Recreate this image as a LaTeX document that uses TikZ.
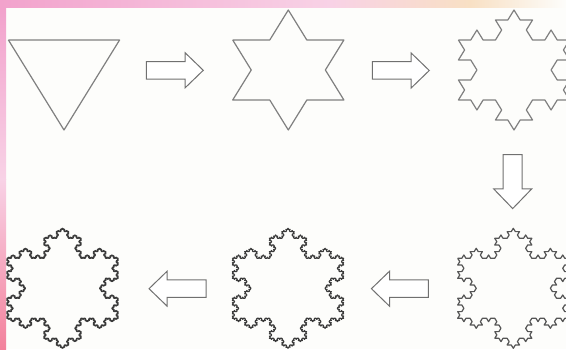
\documentclass[tikz,border=0pt]{standalone}
\usepackage{tikz}
\usetikzlibrary{decorations.fractals,shapes.arrows,positioning}
\definecolor{KochLine}{HTML}{808080}
\definecolor{KochMid}{HTML}{555555}
\definecolor{KochDark}{HTML}{3A3A3A}
\definecolor{KochArrow}{HTML}{707070}
\definecolor{SlidePaper}{HTML}{FDFDFB}
\definecolor{SlidePink}{HTML}{F2A2CC}
\definecolor{SlideBlush}{HTML}{F8D2E6}
\definecolor{SlideRose}{HTML}{F3829C}
\definecolor{SlidePeach}{HTML}{F8E0C4}
\tikzset{
  koch/.style={
    decoration=Koch snowflake,
    line width=1.15pt,
    line join=round
  },
  blockarrow/.style={
    single arrow,
    draw=KochArrow,
    fill=white,
    line width=1pt,
    inner xsep=0pt,
    inner ysep=8.25pt,
    minimum height=57pt,
    minimum width=34pt,
    single arrow head extend=8.75pt,
    single arrow tip angle=88,
    anchor=tip
  }
}

\begin{document}
\begin{tikzpicture}[x=1pt,y=1pt]

    \useasboundingbox (0,0) rectangle (566,349);
    \clip (0,0) rectangle (566,349);

    % slide paper and its coloured rims
    \fill[SlidePaper] (0,0) rectangle (566,349);
    \shade[left color=SlidePink,right color=SlideBlush]
      (0,341) rectangle (330,349);
    \shade[left color=SlideBlush,right color=SlidePeach]
      (330,341) rectangle (470,349);
    \shade[left color=SlidePeach,right color=SlidePaper]
      (470,341) rectangle (566,349);
    \shade[top color=SlidePink,bottom color=SlideBlush]
      (0,170) rectangle (6,341);
    \shade[top color=SlideBlush,bottom color=SlideRose]
      (0,0) rectangle (6,170);

    % step 0
    \begin{scope}[transform canvas={shift={(64,279)},xscale=1.07}]
      \draw[koch,draw=KochLine]
        (150:60) -- (30:60) -- (270:60) -- (150:60);
    \end{scope}

    % step 1
    \begin{scope}[transform canvas={shift={(288.3,279)},xscale=1.07}]
      \draw[koch,draw=KochLine]
        decorate{(150:60) -- (30:60) -- (270:60) -- (150:60)};
    \end{scope}

    % step 2
    \begin{scope}[transform canvas={shift={(514,279)},xscale=1.07}]
      \draw[koch,draw=KochLine]
        decorate{decorate{(150:60) -- (30:60) -- (270:60) -- (150:60)}};
    \end{scope}

    % step 3
    \begin{scope}[transform canvas={shift={(513.3,60.7)},xscale=1.07}]
      \draw[koch,draw=KochMid]
        decorate{decorate{decorate{
          (150:60) -- (30:60) -- (270:60) -- (150:60)}}};
    \end{scope}

    % step 4
    \begin{scope}[transform canvas={shift={(288,60.7)},xscale=1.07}]
      \draw[koch,draw=KochDark]
        decorate{decorate{decorate{decorate{
          (150:60) -- (30:60) -- (270:60) -- (150:60)}}}};
    \end{scope}

    % step 5
    \begin{scope}[transform canvas={shift={(62.5,60.7)},xscale=1.07}]
      \draw[koch,draw=KochDark]
        decorate{decorate{decorate{decorate{decorate{
          (150:60) -- (30:60) -- (270:60) -- (150:60)}}}}};
    \end{scope}

    % arrows between the steps, placed by their tips
    \node[blockarrow] (stepA) at (204,278.7) {};
    \node[blockarrow] (stepB) at (430,278.5) {};
    \node[
      blockarrow,
      rotate=-90,
      inner ysep=9pt,
      minimum height=54pt,
      minimum width=37pt,
      single arrow head extend=9.5pt
    ] (stepC) at (512.7,139.7) {};
    \node[blockarrow,rotate=180] (stepD) at (370.7,60.3) {};
    \node[blockarrow,rotate=180] (stepE) at (148.3,60.3) {};

  \end{tikzpicture}
\end{document}
